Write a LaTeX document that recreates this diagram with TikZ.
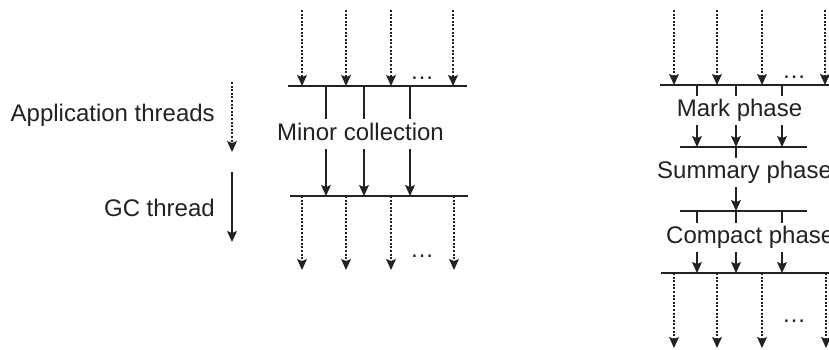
\documentclass[tikz,border=0pt]{standalone}
\usepackage{fontspec}
\setmainfont{Liberation Sans}
\usetikzlibrary{arrows.meta}
\definecolor{ink}{HTML}{222222}
\tikzset{
  ln/.style={draw=ink, line width=1.4pt},
  arr/.style={ln, -{Stealth[length=11pt,width=10pt,inset=2pt,line width=0pt]}},
  dotarr/.style={arr, dash pattern=on 2pt off 1.6pt},
  lbl/.style={font=\fontsize{24}{28}\selectfont, text=ink, inner sep=0pt},
  phase/.style={lbl, fill=white, text height=17pt, text depth=5pt, inner xsep=2pt, inner ysep=3.5pt},
  dots/.style={lbl, anchor=base}
}
\begin{document}
\begin{tikzpicture}[x=1pt,y=-1pt]
\useasboundingbox (0,0) rectangle (829,350);
\clip (0,0) rectangle (829,350);

% ---------- legend ----------
\node[lbl, anchor=east] (app) at (215,115) {Application threads};
\node[lbl, anchor=east] (gc) at (215,208) {GC thread};
\coordinate (appS) at (232,82);  \coordinate (appE) at (232,152);
\coordinate (gcS)  at (232,172); \coordinate (gcE)  at (232,242);
\draw[dotarr] (appS) -- (appE);
\draw[arr] (gcS) -- (gcE);

% ---------- minor collection ----------
\coordinate (mbarTL) at (288,86);  \coordinate (mbarTR) at (467,86);
\coordinate (mbarBL) at (290,196); \coordinate (mbarBR) at (468,196);
\foreach \x/\n in {302/1,346/2,391/3,453/4} {
  \coordinate (min\n) at (\x,10);
  \coordinate (mtop\n) at (\x,86);
  \draw[dotarr] (min\n) -- (mtop\n);
}
\foreach \x/\n in {302/1,346/2,391/3,454/4} {
  \coordinate (mbot\n) at (\x,196);
  \coordinate (mout\n) at (\x,270);
  \draw[dotarr] (mbot\n) -- (mout\n);
}
\draw[ln] (mbarTL) -- (mbarTR);
\draw[ln] (mbarBL) -- (mbarBR);
\foreach \x/\n in {326/1,364/2,410/3} {
  \coordinate (ma\n) at (\x,86);
  \coordinate (mb\n) at (\x,196);
  \draw[arr] (ma\n) -- (mb\n);
}
\node[phase] (minor) at (360.5,134) {Minor collection};
\node[dots] (mdotsT) at (422,80) {…};
\node[dots] (mdotsB) at (422,257) {…};

% ---------- full collection ----------
\coordinate (fb1L) at (660,85);  \coordinate (fb1R) at (840,85);
\coordinate (fb2L) at (680,147); \coordinate (fb2R) at (807,147);
\coordinate (fb3L) at (680,211); \coordinate (fb3R) at (807,211);
\coordinate (fb4L) at (661,273); \coordinate (fb4R) at (840,273);
\foreach \x/\n in {674/1,717/2,762/3,825/4} {
  \coordinate (fin\n) at (\x,10);
  \coordinate (ftop\n) at (\x,85);
  \draw[dotarr] (fin\n) -- (ftop\n);
}
\foreach \x/\n in {674/1,717/2,762/3,826/4} {
  \coordinate (fbot\n) at (\x,273);
  \coordinate (fout\n) at (\x,348);
  \draw[dotarr] (fbot\n) -- (fout\n);
}
\draw[ln] (fb1L) -- (fb1R);
\draw[ln] (fb2L) -- (fb2R);
\draw[ln] (fb3L) -- (fb3R);
\draw[ln] (fb4L) -- (fb4R);
\foreach \x/\n in {697/1,736/2,782/3} {
  \coordinate (ka\n) at (\x,85);
  \coordinate (kb\n) at (\x,147);
  \draw[arr] (ka\n) -- (kb\n);
  \coordinate (ca\n) at (\x,211);
  \coordinate (cb\n) at (\x,273);
  \draw[arr] (ca\n) -- (cb\n);
}
\coordinate (sa) at (736,147); \coordinate (sb) at (736,211);
\draw[arr] (sa) -- (sb);
\node[phase] (mark) at (739.5,110.5) {Mark phase};
\node[phase, anchor=west, inner xsep=0pt] (summ) at (657,172.5) {Summary phase};
\node[phase, anchor=west, inner xsep=0pt] (comp) at (666,237.5) {Compact phase};
\node[dots] (fdotsT) at (794,79) {…};
\node[dots] (fdotsB) at (794,322) {…};
\end{tikzpicture}
\end{document}
